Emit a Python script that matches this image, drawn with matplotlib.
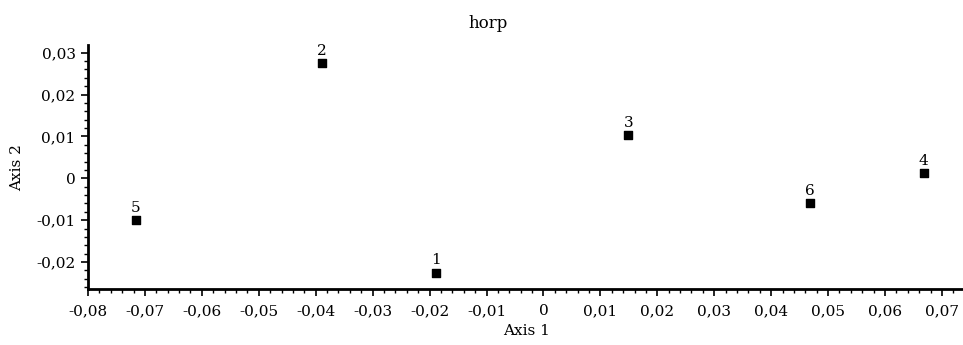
import matplotlib
matplotlib.use("Agg")
import matplotlib.pyplot as plt
from matplotlib.ticker import MultipleLocator, FuncFormatter

# point coordinates
labels = ['1', '2', '3', '4', '5', '6']
axis1 = [-0.0189, -0.0389, 0.0149, 0.0668, -0.0716, 0.0468]
axis2 = [-0.0225, 0.0275, 0.0103, 0.0012, -0.0100, -0.0060]

plt.rcParams['font.family'] = ['DejaVu Serif']
plt.rcParams['font.size'] = 11

fig = plt.figure(figsize=(9.63, 3.45), dpi=100)
ax = fig.add_axes([88/963, 56/345, (963-88)/963, 244/345])

ax.scatter(axis1, axis2, marker='s', s=36, color='black', zorder=3)
for lab, x, y in zip(labels, axis1, axis2):
    ax.annotate(lab, (x, y), xytext=(0, 6), textcoords='offset points',
                ha='center', va='baseline', fontsize=11)

ax.set_xlim(-0.08, 0.0737)
ax.set_ylim(-0.02644, 0.03184)

def fmt(v, pos):
    if abs(v) < 1e-9:
        return '0'
    return ('%.2f' % v).replace('.', ',')

ax.xaxis.set_major_locator(MultipleLocator(0.01))
ax.xaxis.set_minor_locator(MultipleLocator(0.002))
ax.yaxis.set_major_locator(MultipleLocator(0.01))
ax.yaxis.set_minor_locator(MultipleLocator(0.002))
ax.xaxis.set_major_formatter(FuncFormatter(fmt))
ax.yaxis.set_major_formatter(FuncFormatter(fmt))

for side in ['top', 'right']:
    ax.spines[side].set_visible(False)
for side in ['left', 'bottom']:
    ax.spines[side].set_linewidth(2)
ax.tick_params(which='major', direction='out', length=5, width=1.2, labelsize=11)
ax.tick_params(axis='x', which='major', pad=6)
ax.tick_params(axis='y', which='major', pad=4)
ax.tick_params(which='minor', direction='out', length=3, width=1)

fig.text(488/963, 1 - 24/345, 'horp', ha='center', va='center', fontsize=12)
fig.text(527/963, 1 - 331/345, 'Axis 1', ha='center', va='center', fontsize=11)
fig.text(17/963, 1 - 168/345, 'Axis 2', ha='center', va='center', rotation=90, fontsize=11)

fig.savefig('out.png', dpi=100)
